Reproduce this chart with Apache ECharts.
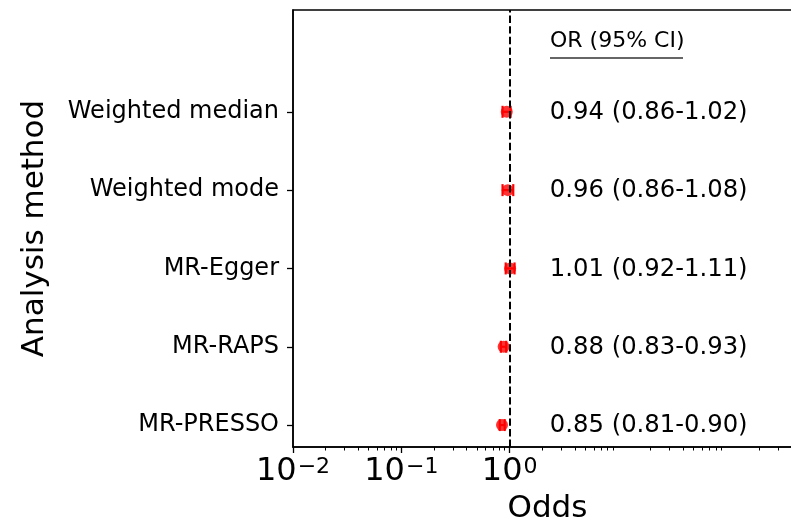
<!DOCTYPE html>
<html><head><meta charset="utf-8">
<script src="https://cdn.jsdelivr.net/npm/echarts@6/dist/echarts.min.js"></script>
<style>html,body{margin:0;padding:0;background:#fff}#c{width:791px;height:526px}</style>
</head><body><div id="c"></div>
<script>
// Data (bottom to top)
const methods = ['MR-PRESSO', 'MR-RAPS', 'MR-Egger', 'Weighted mode', 'Weighted median'];
const orValues = [0.85, 0.88, 1.01, 0.96, 0.94];
const ciLower = [0.81, 0.83, 0.92, 0.86, 0.86];
const ciUpper = [0.90, 0.93, 1.11, 1.08, 1.02];
const xTickValues = [0.01, 0.1, 1];
const xTickExponents = ['\u22122', '\u22121', '0'];
const headerText = 'OR (95% CI)';

// Layout constants
const X_MIN = 0.01, X_MAX = 500, TEXT_X = 2.35;
const FONT = 'DejaVu Sans';
const minorTicks = [];
for (let d = -2; d <= 2; d++) for (let m = 2; m <= 9; m++) {
  const v = +(m * Math.pow(10, d)).toPrecision(3);
  if (v < X_MAX) minorTicks.push(v);
}
const yIdx = methods.map((_, i) => i);

const chart = echarts.init(document.getElementById('c'), null, {renderer: 'canvas'});
const option = {
  animation: false,
  backgroundColor: '#fff',
  textStyle: {fontFamily: FONT},
  grid: {left: 293, top: 10, right: -11, bottom: 79, show: true, borderColor: '#000', borderWidth: 1.5, outerBoundsMode: 'none', containLabel: false},
  xAxis: [{
    type: 'log', logBase: 10, min: X_MIN, max: X_MAX, position: 'bottom',
    name: 'Odds', nameLocation: 'middle', nameGap: 46,
    nameTextStyle: {fontSize: 31, color: '#000', fontFamily: FONT},
    axisLine: {show: true, onZero: false, lineStyle: {color: '#000', width: 1.5}},
    axisTick: {show: true, length: 6, customValues: xTickValues, lineStyle: {color: '#000', width: 1.3}},
    axisLabel: {
      customValues: xTickValues, margin: 9, color: '#000', fontSize: 32, fontFamily: FONT,
      formatter: v => {
        const i = xTickValues.findIndex(t => Math.abs(t - v) < t * 1e-6);
        return i < 0 ? '' : '{b|10}{s|' + xTickExponents[i] + '}';
      },
      rich: {
        b: {fontSize: 32, fontFamily: FONT, color: '#000', verticalAlign: 'bottom'},
        s: {fontSize: 22, fontFamily: FONT, color: '#000', verticalAlign: 'top', padding: [0, 0, 0, 1]}
      }
    },
    splitLine: {show: false}
  }, {
    type: 'log', logBase: 10, min: X_MIN, max: X_MAX, position: 'bottom',
    axisLine: {show: false, onZero: false},
    axisTick: {show: true, length: 3.5, customValues: minorTicks, lineStyle: {color: '#000', width: 1}},
    axisLabel: {show: false},
    splitLine: {show: false}
  }],
  yAxis: {
    type: 'value', min: -0.28, max: 5.3,
    name: 'Analysis method', nameLocation: 'middle', nameGap: 243, nameRotate: 90,
    nameTextStyle: {fontSize: 31, color: '#000', fontFamily: FONT},
    axisLine: {show: true, onZero: false, lineStyle: {color: '#000', width: 1.5}},
    axisTick: {show: true, length: 6, customValues: yIdx, lineStyle: {color: '#000', width: 1.3}},
    axisLabel: {customValues: yIdx, margin: 14, color: '#000', fontSize: 24, fontFamily: FONT,
      padding: [3, 0, 0, 0],
      formatter: v => methods[Math.round(v)] || ''},
    splitLine: {show: false}
  },
  graphic: [
    {type: 'text', left: 550, top: 30, style: {text: headerText, font: '22px "DejaVu Sans"', fill: '#000'}},
    {type: 'line', shape: {x1: 550, y1: 58, x2: 683, y2: 58}, style: {stroke: '#333', lineWidth: 1.5}}
  ],
  series: [{
    type: 'custom', xAxisIndex: 0, yAxisIndex: 0, z: 3,
    data: yIdx.map(i => [orValues[i], i, ciLower[i], ciUpper[i]]),
    encode: {x: 0, y: 1},
    renderItem: (params, api) => {
      const y = api.value(1);
      const p0 = api.coord([api.value(2), y]);
      const p1 = api.coord([api.value(3), y]);
      const c = 6, st = {stroke: '#ff0000', lineWidth: 2.2};
      return {type: 'group', children: [
        {type: 'line', shape: {x1: p0[0], y1: p0[1], x2: p1[0], y2: p1[1]}, style: st},
        {type: 'line', shape: {x1: p0[0], y1: p0[1] - c, x2: p0[0], y2: p0[1] + c}, style: st},
        {type: 'line', shape: {x1: p1[0], y1: p1[1] - c, x2: p1[0], y2: p1[1] + c}, style: st}
      ]};
    },
    markLine: {
      silent: true, symbol: 'none', label: {show: false},
      lineStyle: {color: '#000', type: [7.4, 3.2], width: 2},
      data: [{xAxis: 1}]
    }
  }, {
    type: 'scatter', xAxisIndex: 0, yAxisIndex: 0, z: 4,
    symbol: 'circle', symbolSize: 12, itemStyle: {color: '#ff0000'},
    data: yIdx.map(i => [orValues[i], i])
  }, {
    type: 'custom', xAxisIndex: 0, yAxisIndex: 0, z: 5,
    data: yIdx.map(i => [TEXT_X, i]),
    encode: {x: 0, y: 1},
    renderItem: (params, api) => {
      const i = params.dataIndex;
      const p = api.coord([api.value(0), api.value(1)]);
      return {type: 'text', x: p[0], y: p[1] + 1, style: {
        text: orValues[i].toFixed(2) + ' (' + ciLower[i].toFixed(2) + '-' + ciUpper[i].toFixed(2) + ')',
        font: '24.3px "DejaVu Sans"', fill: '#000', align: 'left', verticalAlign: 'middle'}};
    }
  }]
};
chart.setOption(option);
</script></body></html>
